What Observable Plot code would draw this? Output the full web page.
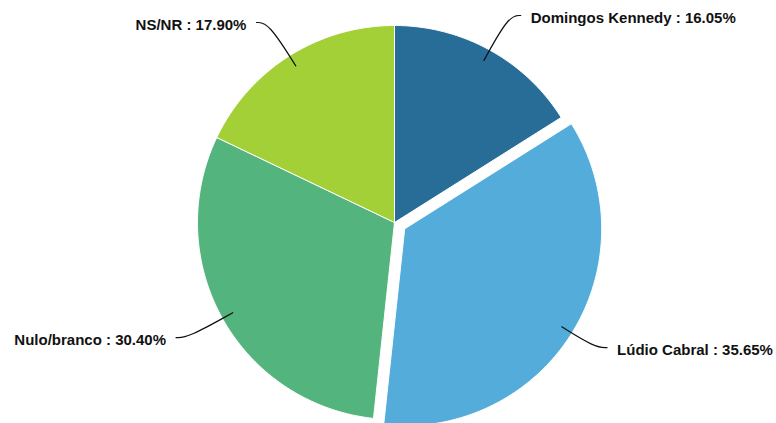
<!DOCTYPE html>
<html>
<head>
<meta charset="utf-8">
<script src="https://cdn.jsdelivr.net/npm/d3@7"></script>
<script src="https://cdn.jsdelivr.net/npm/@observablehq/plot@0.6"></script>
<style>
  html, body { margin: 0; padding: 0; background: #fff; }
  #chart { width: 776px; height: 423px; }
</style>
</head>
<body>
<div id="chart"></div>
<script>
// ---- data ----
const names  = ["Domingos Kennedy", "Lúdio Cabral", "Nulo/branco", "NS/NR"];
const values = [16.05, 35.65, 30.40, 17.90];
const colors = ["#286c98", "#53acd9", "#54b47d", "#a3cf37"];
const exploded = ["Lúdio Cabral"];

// ---- layout constants (unit = pie radius) ----
const W = 776, H = 423, R = 197;
const explodeR = 12 / R;

const pie = d3.pie().sort(null).value(d => d.value);
const arcs = pie(names.map((n, i) => ({name: n, value: values[i]})));

const polyRows = [];
const connRows = [];
const labelRows = [];
arcs.forEach(a => {
  const name = a.data.name;
  const mid = (a.startAngle + a.endAngle) / 2;
  const ox = exploded.includes(name) ? explodeR * Math.sin(mid) : 0;
  const oy = exploded.includes(name) ? explodeR * Math.cos(mid) : 0;
  polyRows.push({name, x: ox, y: oy});
  const n = Math.max(2, Math.ceil((a.endAngle - a.startAngle) / 0.01));
  for (let k = 0; k <= n; k++) {
    const t = a.startAngle + (a.endAngle - a.startAngle) * k / n;
    polyRows.push({name, x: ox + Math.sin(t), y: oy + Math.cos(t)});
  }
  polyRows.push({name, x: ox, y: oy});

  const side = Math.sin(mid) >= 0 ? 1 : -1;
  const p0 = {x: ox + 0.94 * Math.sin(mid), y: oy + 0.94 * Math.cos(mid)};
  const p1 = {x: 1.2 * Math.sin(mid), y: 1.2 * Math.cos(mid)};
  const e = {x: p1.x + side * 12 / R, y: p1.y};
  connRows.push({name, ...p0}, {name, ...p1}, {name, ...e});
  labelRows.push({name, x: e.x, y: e.y, side,
    text: `${name} : ${a.data.value.toFixed(2)}%`});
});

const chart = Plot.plot({
  width: W,
  height: H,
  margin: 0,
  x: {domain: [-394 / R, 382 / R], axis: null},
  y: {domain: [-(H - 222) / R, 222 / R], axis: null},
  color: {domain: names, range: colors},
  style: {background: "#fff"},
  marks: [
    Plot.line(polyRows, {x: "x", y: "y", z: "name", fill: "name", stroke: "white", strokeWidth: 1, strokeLinejoin: "round"}),
    Plot.line(connRows, {x: "x", y: "y", z: "name", stroke: "#111", strokeWidth: 1.2, curve: "basis"}),
    Plot.text(labelRows.filter(d => d.side > 0), {x: "x", y: "y", text: "text", textAnchor: "start", dx: 10, dy: 3,
      fontFamily: "'Liberation Sans', Arial, sans-serif", fontSize: 15, fontWeight: "bold", fill: "#111"}),
    Plot.text(labelRows.filter(d => d.side < 0), {x: "x", y: "y", text: "text", textAnchor: "end", dx: -10, dy: 3,
      fontFamily: "'Liberation Sans', Arial, sans-serif", fontSize: 15, fontWeight: "bold", fill: "#111"})
  ]
});
document.getElementById("chart").appendChild(chart);
</script>
</body>
</html>
